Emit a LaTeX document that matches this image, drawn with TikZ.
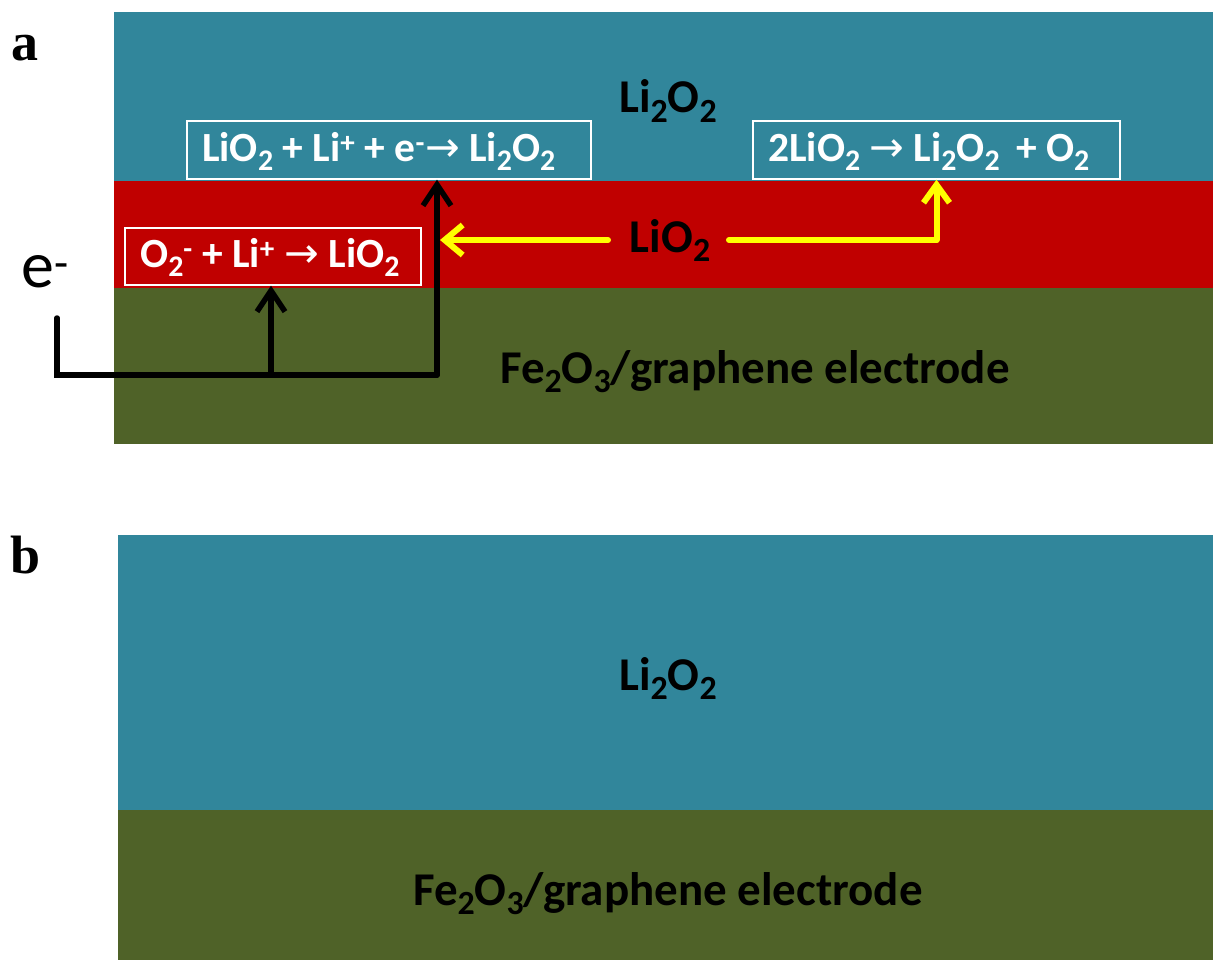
\documentclass[tikz,border=0pt]{standalone}
\usepackage{fontspec}
\usepackage{graphicx}
\setmainfont{Carlito}
\newfontfamily\panelfont{Liberation Serif}
\newfontfamily\arrowfont{DejaVu Sans}
\usetikzlibrary{arrows.meta}
\definecolor{layerteal}{HTML}{31869B}
\definecolor{layerred}{HTML}{C00000}
\definecolor{layerolive}{HTML}{4F6228}
\definecolor{arrowyellow}{HTML}{FFFF00}
\newcommand\sbx[1]{\raisebox{-0.2em}{\scalebox{0.72}{#1}}}
\newcommand\spx[1]{\textsuperscript{#1}}
\newcommand\rarr{{\arrowfont\mdseries →}}
\tikzset{
  panellabel/.style={font=\panelfont\bfseries\fontsize{54}{54}\selectfont, inner sep=0pt},
  layerlabel/.style={font=\bfseries\fontsize{47}{47}\selectfont, anchor=base, inner sep=0pt, text=black},
  eqbox/.style={draw=white, line width=1.3pt, inner sep=0pt},
  eqtext/.style={font=\bfseries\fontsize{41.5}{41.5}\selectfont, text=white, anchor=base west, inner sep=0pt},
  ewire/.style={line width=5.5pt, black, line cap=round, line join=miter},
  etip/.style={-{Straight Barb[length=21pt,width=28pt,line width=5.5pt]}},
  ywire/.style={line width=6pt, arrowyellow, line cap=round, line join=round},
}
\begin{document}
\begin{tikzpicture}[x=1pt,y=-1pt]
\useasboundingbox (0,0) rectangle (1213,960);
% panel a layers
\fill[layerteal] (114,12) rectangle (1213,181);
\fill[layerred] (114,181) rectangle (1213,288);
\fill[layerolive] (114,288) rectangle (1213,444);
% panel b layers
\fill[layerteal] (118,535) rectangle (1213,810);
\fill[layerolive] (118,810) rectangle (1213,960);

% panel labels
\node[panellabel] (pa) at (25,48) {a};
\node[panellabel] (pb) at (26,555) {b};

% layer labels panel a
\node[layerlabel] (li2o2a) at (668,113) {Li\sbx{2}O\sbx{2}};
\node[layerlabel] (lio2) at (670,252) {LiO\sbx{2}};
\node[layerlabel] (fea) at (755,383) {Fe\sbx{2}O\sbx{3}/graphene electrode};
% layer labels panel b
\node[layerlabel] (li2o2b) at (668,690) {Li\sbx{2}O\sbx{2}};
\node[layerlabel] (feb) at (668,905) {Fe\sbx{2}O\sbx{3}/graphene electrode};

% equation boxes
\node[eqbox, minimum width=404pt, minimum height=58pt] (box1) at (389,150) {};
\node[eqtext] (eq1) at (202,162) {LiO\sbx{2} + Li\spx{+} + e\spx{-}\rarr{} Li\sbx{2}O\sbx{2}};
\node[eqbox, minimum width=367pt, minimum height=58pt] (box3) at (936.5,150) {};
\node[eqtext] (eq3) at (768,162) {2LiO\sbx{2} \rarr{} Li\sbx{2}O\sbx{2} \,+ O\sbx{2}};
\node[eqbox, minimum width=296pt, minimum height=57pt] (box2) at (273,256.5) {};
\node[eqtext] (eq2) at (140,268) {O\sbx{2}\spx{-} + Li\spx{+} \rarr{} LiO\sbx{2}};

% e- label
\node[font=\fontsize{66}{66}\selectfont, inner sep=0pt] (elabel) at (45,272) {e\spx{-}};

% electron path
\coordinate (estart) at (57,318);
\coordinate (ebus) at (437,375);
\coordinate (ejoin) at (271,375);
\draw[ewire] (estart) |- (ebus);
\draw[ewire, etip] (ebus) -- (ebus |- box1.south);
\draw[ewire, etip] (ejoin) -- (ejoin |- box2.south);

% LiO2 diffusion arrows
\coordinate (ytipl) at (440,240);
\coordinate (yleftstart) at (608,240);
\coordinate (yrightstart) at (729,240);
\draw[ywire, -{Straight Barb[length=18pt,width=30pt,line width=6pt]}] (yleftstart) -- (ytipl);
\draw[ywire, -{Straight Barb[length=18pt,width=26pt,line width=6pt]}] (yrightstart) -| (box3.south);
\end{tikzpicture}
\end{document}
